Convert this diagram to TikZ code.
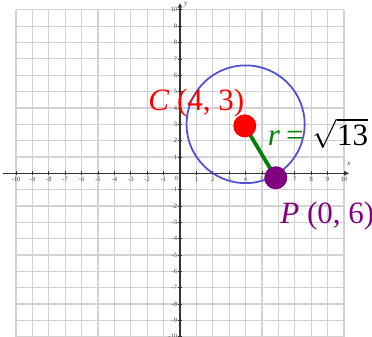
\documentclass[tikz,border=0pt]{standalone}
\usepackage{fontspec}
\setmainfont{Liberation Serif}
\usepackage{tikz}
\usetikzlibrary{arrows.meta, positioning}
\definecolor{circblue}{RGB}{80,80,215}
\definecolor{gridgray}{RGB}{210,210,210}
\definecolor{radgreen}{RGB}{0,128,0}
\definecolor{ptpurple}{RGB}{128,0,128}
\tikzset{
  rejilla/.style={draw=gridgray, line width=1.1pt},
  eje/.style={draw=black!80, line width=1.3pt},
  marca/.style={font=\fontsize{5.6}{6}\selectfont, text=black!75, inner sep=1.5pt},
  punto/.style={circle, minimum size=0.69cm, inner sep=0pt},
  etiqueta/.style={font=\fontsize{26.5}{28}\selectfont, inner sep=0pt}
}

\begin{document}
\begin{tikzpicture}[x=0.492cm, y=0.4905cm]
  \useasboundingbox (-10.976,-10.012) rectangle (11.707,10.6);
  % Rejilla
  \foreach \k in {-10,...,10} {
    \draw [rejilla] (\k,-10) -- (\k,10);
    \draw [rejilla] (-10,\k) -- (10,\k);
  }
  % Ejes
  \draw [eje] (-10.8,0) -- (10.25,0);
  \draw [eje, -{Stealth[length=4pt,width=4pt]}] (0,-10.1) -- (0,10.4);
  \draw [eje, -{Stealth[length=4pt,width=4pt]}] (10,0) -- (10.3,0);
  \node (ejex) [marca, font=\fontsize{6}{6}\itshape] at (10.3,0.55) {x};
  \node (ejey) [marca, font=\fontsize{6}{6}\itshape] at (0.35,10.3) {y};
  \foreach \k in {-10,...,-1,1,2,...,10} {
    \draw [black!80, line width=0.6pt] (\k,-0.12) -- (\k,0.12);
    \draw [black!80, line width=0.6pt] (-0.15,\k) -- (0.15,\k);
    \node [marca, below] at (\k,-0.1) {\k};
    \node [marca, left] at (-0.05,\k) {\k};
  }
  \node (cero) [marca, below left] at (0,-0.05) {0};
  % Circunferencia y radio
  \coordinate (C) at (3.95,2.9);
  \coordinate (P) at (5.84,-0.27);
  \draw [circblue, line width=1.5pt] (4,3) circle (3.6);
  \draw [radgreen, line width=3.2pt] (C) -- (P);
  \node (centro) [punto, fill=red] at (C) {};
  \node (pto) [punto, fill=ptpurple] at (P) {};
  % Etiquetas
  \node (etiqC) [etiqueta, text=red, anchor=base west] at (-1.95,3.85) {\textit{C} (4, 3)};
  \node (etiqr) [etiqueta, anchor=base west] at (5.35,1.73) {\textcolor{radgreen}{\textit{r}\kern5pt=}\kern8pt$\sqrt{\mbox{13}}$};
  \node (etiqP) [etiqueta, text=ptpurple, anchor=base west] at (6.1,-3.04) {\textit{P} (0, 6)};
\end{tikzpicture}
\end{document}
